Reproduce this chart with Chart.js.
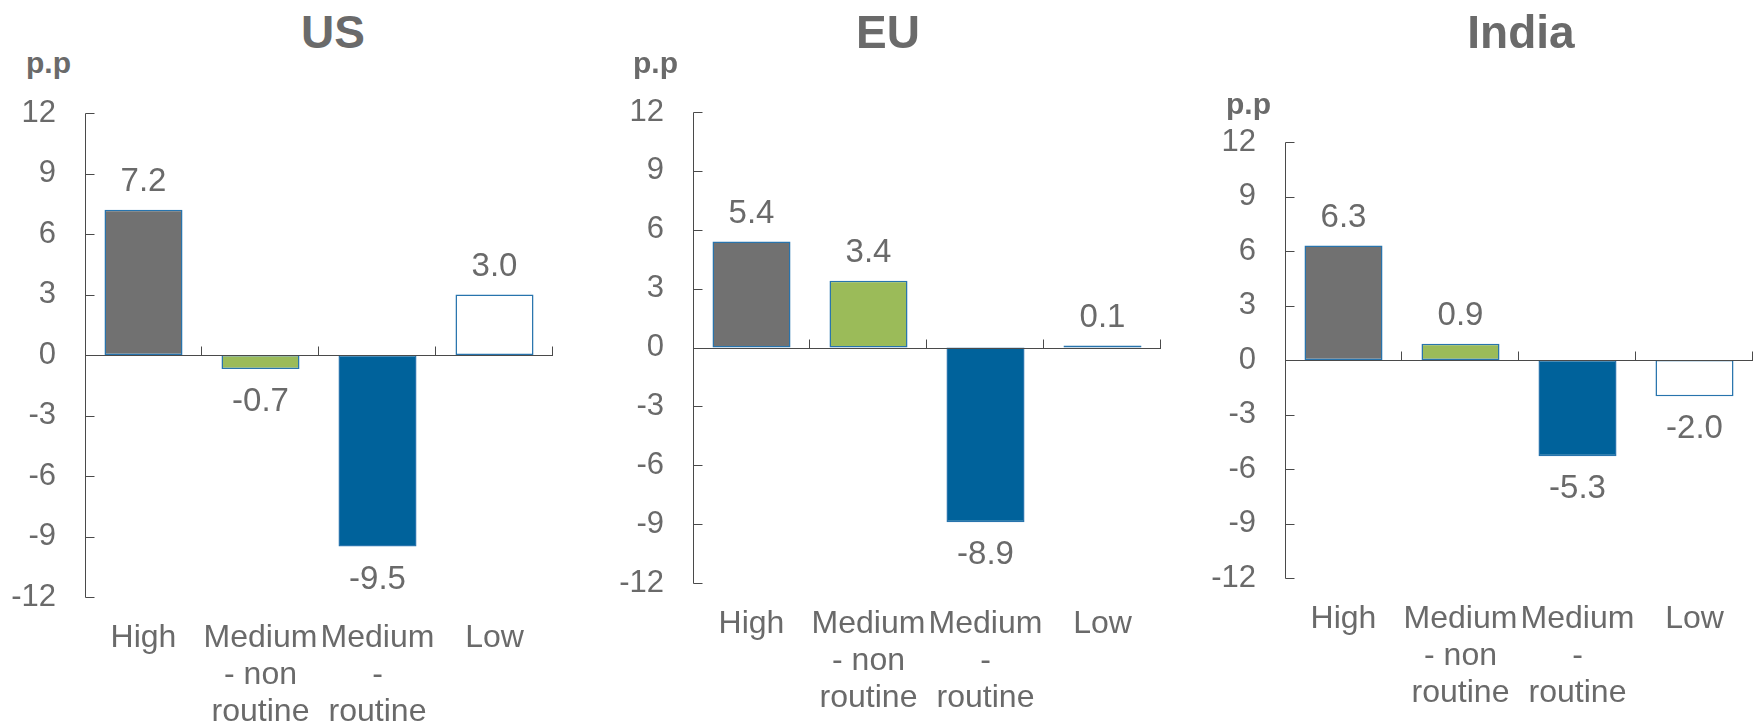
<!DOCTYPE html>
<html>
<head>
<meta charset="utf-8">
<title>Change in employment share by skill level</title>
<script src="https://cdn.jsdelivr.net/npm/chart.js@4/dist/chart.umd.min.js"></script>
<style>
  html, body { margin: 0; padding: 0; background: #ffffff; }
  body {
    width: 1758px; height: 723px; position: relative; overflow: hidden;
    font-family: "Liberation Sans", Arial, sans-serif; color: #6a6a6a;
  }
  canvas { position: absolute; left: 0; top: 0; }
  .panel-title {
    position: absolute; font-weight: bold; font-size: 46px; line-height: 46px;
    transform: translateX(-50%); white-space: nowrap;
  }
  .unit {
    position: absolute; font-weight: bold; font-size: 30px; line-height: 30px; white-space: nowrap;
  }
</style>
</head>
<body>
<script>
// ---- data ----
const categories = [["High"], ["Medium", "- non", "routine"], ["Medium", "-", "routine"], ["Low"]];
const usValues = [7.2, -0.7, -9.5, 3.0];
const euValues = [5.4, 3.4, -8.9, 0.1];
const indiaValues = [6.3, 0.9, -5.3, -2.0];
const panelTitles = ["US", "EU", "India"];
const unitLabel = "p.p";
const yMin = -12, yMax = 12, yStep = 3;

// ---- styling ----
const TEXT = "#6a6a6a";
const AXIS = "#4a4a4a";
const FONT = "'Liberation Sans', Arial, sans-serif";
const barFills = ["#717171", "#9BBB59", "#00629B", "#FFFFFF"];
const barEdge = "#2874AD";
const W = 1758, H = 723, Y_AXIS_W = 80;

// plot-area frame of each panel plus title / unit placement
const layouts = [
  { left: 85,   right: 553,  top: 113, bottom: 597, titleX: 333,  unitX: 26,   unitY: 48 },
  { left: 693,  right: 1161, top: 112, bottom: 583, titleX: 888,  unitX: 633,  unitY: 48 },
  { left: 1285, right: 1753, top: 142, bottom: 578, titleX: 1521, unitX: 1226, unitY: 89 }
];
const seriesList = [usValues, euValues, indiaValues];

// left axis with inward ticks, zero line with category separators
const panelAxes = {
  id: "panelAxes",
  afterDatasetsDraw(chart) {
    const { ctx, scales: { x, y } } = chart;
    const n = chart.data.labels.length;
    const ax = Math.round(x.left) + 0.5;
    const zy = Math.round(y.getPixelForValue(0)) + 0.5;
    ctx.save();
    ctx.strokeStyle = AXIS;
    ctx.lineWidth = 1;
    const seg = (x1, y1, x2, y2) => { ctx.beginPath(); ctx.moveTo(x1, y1); ctx.lineTo(x2, y2); ctx.stroke(); };
    seg(ax, Math.round(y.getPixelForValue(yMax)) + 0.5, ax, Math.round(y.getPixelForValue(yMin)) + 0.5);
    y.ticks.forEach(t => {
      const py = Math.round(y.getPixelForValue(t.value)) + 0.5;
      seg(ax, py, ax + 9, py);
    });
    seg(x.left, zy, x.right, zy);
    for (let i = 0; i < n; i++) {
      const bx = i < n - 1 ? (x.getPixelForValue(i) + x.getPixelForValue(i + 1)) / 2 : x.right;
      const px = Math.round(bx) - 0.5;
      seg(px, zy, px, zy - 9);
    }
    ctx.restore();
  }
};

// value labels above positive bars and below negative ones
const valueLabels = {
  id: "valueLabels",
  afterDatasetsDraw(chart) {
    const { ctx } = chart;
    const ds = chart.data.datasets[0];
    const meta = chart.getDatasetMeta(0);
    ctx.save();
    ctx.fillStyle = TEXT;
    ctx.font = "33px " + FONT;
    ctx.textAlign = "center";
    ctx.textBaseline = "middle";
    meta.data.forEach((bar, i) => {
      const v = ds.data[i];
      const ty = v >= 0 ? bar.y - 28 : bar.y + 33;
      ctx.fillText(v.toFixed(1), bar.x, ty);
    });
    ctx.restore();
  }
};

layouts.forEach((p, k) => {
  const title = document.createElement("div");
  title.className = "panel-title";
  title.textContent = panelTitles[k];
  title.style.left = p.titleX + "px";
  title.style.top = "9px";
  document.body.appendChild(title);

  const unit = document.createElement("div");
  unit.className = "unit";
  unit.textContent = unitLabel;
  unit.style.left = p.unitX + "px";
  unit.style.top = p.unitY + "px";
  document.body.appendChild(unit);

  const canvas = document.createElement("canvas");
  canvas.width = W; canvas.height = H;
  canvas.style.width = W + "px"; canvas.style.height = H + "px";
  document.body.appendChild(canvas);

  new Chart(canvas, {
    type: "bar",
    data: {
      labels: categories,
      datasets: [{
        data: seriesList[k],
        backgroundColor: barFills,
        borderColor: barEdge,
        borderWidth: 1.5,
        borderSkipped: false,
        barPercentage: 0.667,
        categoryPercentage: 1
      }]
    },
    options: {
      responsive: false,
      animation: false,
      devicePixelRatio: 1,
      layout: { padding: { left: p.left - Y_AXIS_W, right: W - p.right, top: p.top, bottom: 0 } },
      plugins: { legend: { display: false }, tooltip: { enabled: false }, title: { display: false } },
      scales: {
        x: {
          grid: { display: false, drawTicks: false },
          border: { display: false },
          ticks: {
            color: TEXT, font: { family: FONT, size: 32, lineHeight: 1.15 },
            padding: 23, maxRotation: 0, minRotation: 0, autoSkip: false
          },
          afterFit(s) { s.height = H - p.bottom; }
        },
        y: {
          min: yMin, max: yMax,
          grid: { display: false, drawTicks: false },
          border: { display: false },
          ticks: { stepSize: yStep, color: TEXT, font: { family: FONT, size: 31 }, padding: 29 },
          afterFit(s) { s.width = Y_AXIS_W; }
        }
      }
    },
    plugins: [panelAxes, valueLabels]
  });
});
</script>
</body>
</html>
